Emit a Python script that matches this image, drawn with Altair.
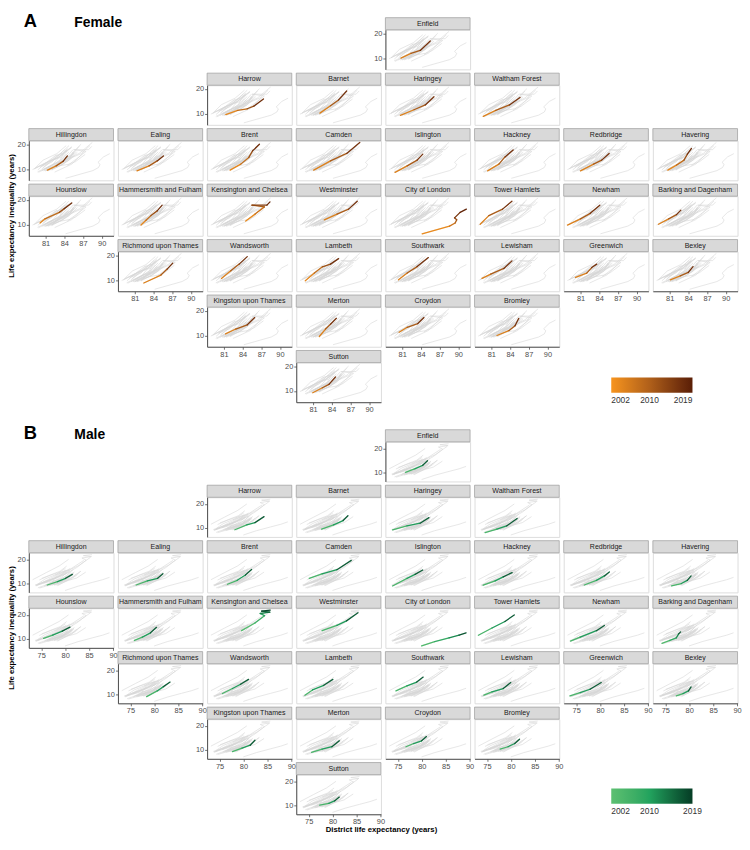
import altair as alt
import pandas as pd

# ---------------- data ----------------
BOROUGHS = ["Enfield", "Harrow", "Barnet", "Haringey", "Waltham Forest",
            "Hillingdon", "Ealing", "Brent", "Camden", "Islington", "Hackney", "Redbridge", "Havering",
            "Hounslow", "Hammersmith and Fulham", "Kensington and Chelsea", "Westminster", "City of London",
            "Tower Hamlets", "Newham", "Barking and Dagenham",
            "Richmond upon Thames", "Wandsworth", "Lambeth", "Southwark", "Lewisham", "Greenwich", "Bexley",
            "Kingston upon Thames", "Merton", "Croydon", "Bromley",
            "Sutton"]
GRID_ROW = [0, 1, 1, 1, 1, 2, 2, 2, 2, 2, 2, 2, 2, 3, 3, 3, 3, 3, 3, 3, 3, 4, 4, 4, 4, 4, 4, 4, 5, 5, 5, 5, 6]
GRID_COL = [4, 2, 3, 4, 5, 0, 1, 2, 3, 4, 5, 6, 7, 0, 1, 2, 3, 4, 5, 6, 7, 1, 2, 3, 4, 5, 6, 7, 2, 3, 4, 5, 3]

YEARS = {4: [2002, 2008, 2013, 2019],
         5: [2002, 2006, 2010, 2014, 2019],
         6: [2002, 2005, 2009, 2012, 2016, 2019],
         7: [2002, 2005, 2008, 2011, 2014, 2017, 2019]}

# Female: district life expectancy (x) and life expectancy inequality (y)
F_LE = [
    [80.8, 82.4, 83.9, 85.5],
    [81.3, 83.2, 84.75, 85.8, 87.35],
    [82.1, 83.8, 85.1, 86.4],
    [80.7, 82.9, 84.7, 86.1],
    [79.7, 81.7, 83.9, 85.6],
    [81.3, 82.7, 83.8, 84.5],
    [81.35, 83.3, 84.6, 85.6],
    [82.0, 83.7, 85.0, 85.6, 86.7],
    [81.1, 83.8, 86.4, 88.5],
    [79.85, 81.8, 83.4, 84.3],
    [80.4, 82.2, 83.2, 84.5],
    [81.0, 83.1, 84.4, 85.6],
    [80.7, 82.1, 83.3, 83.85, 84.5],
    [80.1, 80.9, 83.2, 84.0, 85.2],
    [82.0, 82.8, 83.6, 84.6, 85.4],
    [84.5, 86.0, 87.5, 85.5, 87.9, 88.4],
    [82.8, 84.85, 86.7, 88.1],
    [84.2, 88.6, 89.5, 89.75, 89.4, 90.3, 91.3],
    [79.2, 80.6, 82.8, 84.3],
    [78.9, 81.0, 82.56, 84.1],
    [79.2, 80.84, 82.1, 82.8],
    [82.45, 85.2, 86.2, 87.1],
    [80.6, 82.1, 83.45, 84.75],
    [79.75, 81.2, 82.5, 83.8, 85.1],
    [80.4, 81.8, 83.4, 85.2],
    [79.5, 80.9, 83.0, 84.3],
    [80.2, 82.0, 82.8, 83.6],
    [81.1, 82.7, 84.0, 84.75],
    [81.26, 82.9, 84.75, 85.95],
    [82.0, 83.0, 83.8, 84.75],
    [80.5, 81.8, 83.5, 84.5],
    [81.9, 83.8, 84.8, 85.4],
    [80.95, 82.5, 83.55, 84.6],
]
F_INEQ = [
    [10.0, 11.9, 13.1, 16.9],
    [9.6, 11.3, 11.95, 13.0, 15.9],
    [10.2, 13.2, 15.5, 19.1],
    [9.3, 11.55, 13.5, 16.8],
    [8.9, 11.3, 13.5, 16.5],
    [9.6, 11.3, 13.1, 15.3],
    [9.3, 11.3, 13.3, 15.3],
    [9.6, 12.0, 14.7, 17.3, 20.0],
    [9.6, 13.3, 16.3, 20.7],
    [8.7, 11.3, 13.6, 16.0],
    [9.3, 12.0, 14.9, 17.7],
    [9.3, 12.0, 13.6, 16.3],
    [9.6, 11.6, 13.6, 16.0, 18.3],
    [10.65, 12.3, 14.9, 16.4, 18.7],
    [9.8, 11.7, 13.6, 15.5, 17.8],
    [11.4, 14.2, 17.1, 17.8, 17.8, 19.1],
    [11.9, 14.2, 16.2, 19.4],
    [6.3, 9.4, 10.65, 11.9, 12.7, 14.9, 16.2],
    [10.15, 13.6, 16.2, 19.4],
    [9.8, 12.3, 14.5, 17.8],
    [10.15, 12.3, 14.0, 15.8],
    [8.8, 12.0, 14.4, 16.8],
    [10.65, 13.7, 16.4, 19.4],
    [9.7, 12.8, 15.3, 16.4, 18.6],
    [10.1, 12.8, 15.4, 19.0],
    [10.65, 12.4, 14.65, 17.7],
    [11.05, 12.8, 15.0, 16.4],
    [10.1, 11.7, 13.05, 15.4],
    [10.65, 12.6, 14.3, 17.2],
    [9.6, 12.6, 14.55, 16.9],
    [11.3, 13.3, 14.8, 17.2],
    [10.0, 11.95, 13.9, 16.9],
    [9.3, 11.3, 12.65, 15.6],
]

# Male
M_LE = [
    [76.6, 78.63, 80.2, 81.2],
    [78.2, 80.7, 82.4, 84.3],
    [77.7, 80.2, 82.2, 83.2],
    [73.9, 76.9, 79.65, 81.5],
    [74.6, 77.07, 79.1, 81.3],
    [76.25, 78.4, 80.1, 81.5],
    [76.2, 78.55, 80.7, 81.8],
    [76.66, 78.7, 80.4, 81.7],
    [75.1, 77.8, 80.9, 83.9],
    [73.9, 76.9, 78.6, 80.2],
    [74.2, 76.7, 78.4, 80.25],
    [76.7, 79.24, 80.9, 81.94],
    [76.3, 78.35, 79.6, 80.4],
    [75.5, 77.4, 79.4, 81.0],
    [75.85, 77.5, 79.2, 80.46],
    [79.6, 82.4, 84.4, 83.5, 85.5, 83.8, 85.6],
    [77.8, 80.9, 82.9, 85.3],
    [79.97, 82.7, 85.7, 87.8, 89.26],
    [73.2, 76.05, 78.75, 80.7],
    [73.8, 75.85, 79.24, 80.9],
    [74.3, 75.97, 77.3, 77.8, 78.2],
    [78.4, 80.6, 81.9, 83.3],
    [75.6, 77.7, 79.4, 81.05],
    [74.2, 75.8, 78.15, 80.05],
    [74.6, 76.9, 78.95, 80.3],
    [74.36, 76.05, 78.4, 79.97],
    [73.7, 75.85, 77.9, 80.25],
    [77.3, 78.7, 79.85, 80.4],
    [77.7, 79.7, 81.4, 82.4],
    [75.6, 77.8, 79.85, 81.4],
    [76.7, 78.3, 79.97, 80.98],
    [77.74, 79.4, 80.8, 81.8],
    [77.3, 79.2, 80.4, 81.4],
]
M_INEQ = [
    [10.0, 11.55, 12.95, 14.9],
    [9.2, 11.25, 12.2, 14.7],
    [9.45, 11.25, 13.05, 15.1],
    [9.2, 10.8, 11.95, 14.3],
    [8.0, 9.45, 10.8, 13.9],
    [9.3, 10.7, 12.1, 13.75],
    [9.3, 11.0, 12.1, 14.0],
    [9.6, 11.25, 13.5, 15.8],
    [12.1, 14.0, 15.7, 19.6],
    [8.9, 12.1, 13.75, 15.6],
    [9.2, 11.0, 12.7, 14.5],
    [9.3, 11.25, 13.1, 14.75],
    [8.9, 9.9, 11.25, 13.1],
    [10.15, 11.5, 13.2, 14.9],
    [9.3, 10.7, 12.5, 14.8],
    [13.4, 16.6, 19.7, 20.6, 21.2, 21.6, 22.0],
    [13.4, 15.6, 17.5, 20.9],
    [7.0, 8.8, 10.4, 11.5, 12.5],
    [11.5, 14.5, 17.25, 20.0],
    [9.05, 10.7, 13.4, 15.6],
    [8.1, 9.3, 10.4, 12.05, 12.9],
    [9.0, 11.4, 13.2, 15.1],
    [10.3, 12.4, 14.2, 16.25],
    [9.6, 11.8, 13.75, 16.25],
    [11.4, 13.5, 15.1, 17.2],
    [9.6, 11.0, 12.4, 14.9],
    [9.3, 10.7, 12.1, 14.9],
    [9.3, 10.3, 11.4, 13.05],
    [9.2, 10.7, 11.9, 14.0],
    [8.9, 10.25, 11.25, 13.75],
    [11.25, 12.6, 13.75, 15.5],
    [10.25, 11.25, 12.6, 14.4],
    [10.0, 10.8, 11.8, 13.4],
]

LEGEND_VALUES = [2002, 2010, 2019]
F_DOMAIN = [2002, 2010, 2019]
M_DOMAIN = [2002, 2010, 2019.001]   # tiny offset keeps the two legends from being merged
F_COLORS = ["#f7941d", "#b0601a", "#5a1e06"]
M_COLORS = ["#5cc071", "#22a35e", "#063d25"]

# ---------------- layout constants ----------------
W = 85.5
H = 40.0
SPACER_H = 8.0
ROW_GAP = 16.0
COL_GAP = 4.0
STRIP = 12.2


def build(le_lists, ineq_lists):
    pts, segs = [], []
    for b, xs, ys in zip(BOROUGHS, le_lists, ineq_lists):
        yrs = YEARS[len(xs)]
        for yr, x, y in zip(yrs, xs, ys):
            pts.append({"borough": b, "year": yr, "le": x, "ineq": y})
        for i in range(len(xs) - 1):
            segs.append({"borough": b, "le": xs[i], "ineq": ys[i],
                         "le2": xs[i + 1], "ineq2": ys[i + 1],
                         "year": (yrs[i] + yrs[i + 1]) / 2})
    return pd.DataFrame(pts), pd.DataFrame(segs)


LINES = {}
SEGS = {}
LINES["F"], SEGS["F"] = build(F_LE, F_INEQ)
LINES["M"], SEGS["M"] = build(M_LE, M_INEQ)

ONE = pd.DataFrame({"t": [""]})

AX = dict(title=None, grid=False, labelFontSize=7.5, labelColor="#4d4d4d",
          tickColor="#4d4d4d", tickSize=2.5, tickWidth=0.8, domainColor="#4d4d4d",
          domainWidth=1, labelPadding=1, labelFont="Liberation Sans", labelFlush=False,
          zindex=1)


def legend(ly):
    return alt.Legend(orient="none", legendX=588, legendY=ly, direction="horizontal",
                      gradientLength=82, gradientThickness=15.5, title=None,
                      values=LEGEND_VALUES, format="d", labelFontSize=8.5,
                      labelColor="#333333", labelAlign="center", labelOffset=3,
                      padding=0, gradientStrokeWidth=0, labelFont="Liberation Sans")


SEX = {
    "F": dict(xdom=[78.3, 91.9], ydom=[5.5, 21.4], xticks=[81, 84, 87, 90],
              scale=alt.Scale(domain=F_DOMAIN, range=F_COLORS, interpolate="lab"),
              legend=legend(351.0)),
    "M": dict(xdom=[72.4, 90.1], ydom=[6.2, 22.8], xticks=[75, 80, 85, 90],
              scale=alt.Scale(domain=M_DOMAIN, range=M_COLORS, interpolate="lab"),
              legend=legend(766.0)),
}


def panel(sex, name, show_x, show_y):
    cfg = SEX[sex]
    xs = alt.Scale(domain=cfg["xdom"], nice=False, zero=False)
    ys = alt.Scale(domain=cfg["ydom"], nice=False, zero=False)
    xax = alt.Axis(values=cfg["xticks"], **AX) if show_x else None
    yax = alt.Axis(values=[10, 20], **AX) if show_y else None
    grey = alt.Chart(LINES[sex]).mark_line(color="#d6d6d6", strokeWidth=0.6).encode(
        x=alt.X("le:Q", scale=xs, axis=xax),
        y=alt.Y("ineq:Q", scale=ys, axis=yax),
        detail="borough:N",
        order="year:Q",
    )
    enc = dict(x=alt.X("le:Q", scale=xs, axis=xax),
               y=alt.Y("ineq:Q", scale=ys, axis=yax),
               x2="le2:Q", y2="ineq2:Q")
    if sex == "F":
        enc["color"] = alt.Color("year:Q", scale=cfg["scale"], legend=cfg["legend"])
    else:
        enc["stroke"] = alt.Stroke("year:Q", scale=cfg["scale"], legend=cfg["legend"])
    hi = alt.Chart(SEGS[sex]).transform_filter(alt.datum.borough == name).mark_rule(
        strokeWidth=1.3, strokeCap="round").encode(**enc)
    sdf = pd.DataFrame({"borough": [name]})
    strip = alt.Chart(sdf).mark_rect(fill="#d9d9d9", stroke="#9a9a9a", strokeWidth=0.7).encode(
        x=alt.value(0), x2=alt.value(W), y=alt.value(-STRIP), y2=alt.value(0))
    stext = alt.Chart(sdf).mark_text(fontSize=7.1, color="#1a1a1a", baseline="middle",
                                     align="center", font="Liberation Sans").encode(
        x=alt.value(W / 2), y=alt.value(-STRIP / 2), text="borough:N")
    return alt.layer(grey, hi, strip, stext).properties(width=W, height=H)


def blank(h=H, extra=()):
    base = alt.Chart(ONE).mark_point(opacity=0).encode(x=alt.value(0), y=alt.value(0))
    ch = alt.layer(base, *extra) if extra else base
    return ch.properties(width=W, height=h, view=alt.ViewBackground(stroke="transparent"))


def txt(text, x, y, size, **kw):
    return alt.Chart(ONE).mark_text(text=text, fontSize=size, fontWeight="bold", color="black",
                                    font="Liberation Sans", **kw).encode(
        x=alt.value(x), y=alt.value(y))


YTITLE = "Life expectancy inequality (years)"


def corner(letter, label):
    return [txt(letter, -5, -2.5, 18.5, align="left", baseline="alphabetic"),
            txt(label, 46, -2.5, 14, align="left", baseline="alphabetic"),
            txt(YTITLE, -16.5, 188.0, 7.8, align="center", baseline="middle", angle=270)]


occupied = {(r, c): b for b, r, c in zip(BOROUGHS, GRID_ROW, GRID_COL)}
row_min = {}
for (r, c) in occupied:
    row_min[r] = min(row_min.get(r, 99), c)

cells = []
for sex in ("F", "M"):
    for r in range(7):
        for c in range(8):
            if (r, c) in occupied:
                b = occupied[(r, c)]
                cells.append(panel(sex, b, (r + 1, c) not in occupied, c == row_min[r]))
            elif r == 0 and c == 0:
                cells.append(blank(extra=corner("A", "Female") if sex == "F" else corner("B", "Male")))
            elif sex == "M" and r == 6 and c == 0:
                xt = (8 * W + 7 * COL_GAP) / 2
                cells.append(blank(extra=[txt("District life expectancy (years)", xt, H + 18.0, 7.8,
                                              align="center", baseline="alphabetic")]))
            else:
                cells.append(blank())
    if sex == "F":
        for c in range(8):
            cells.append(blank(h=SPACER_H))

chart = alt.concat(*cells, columns=8, spacing={"row": ROW_GAP, "column": COL_GAP},
                   bounds="flush").resolve_scale(
    x="independent", y="independent").properties(padding=0).configure_view(
    stroke="#a0a0a0", strokeWidth=0.8).configure(font="Liberation Sans")

chart.save("out.html", embed_options={"renderer": "svg", "actions": False})
